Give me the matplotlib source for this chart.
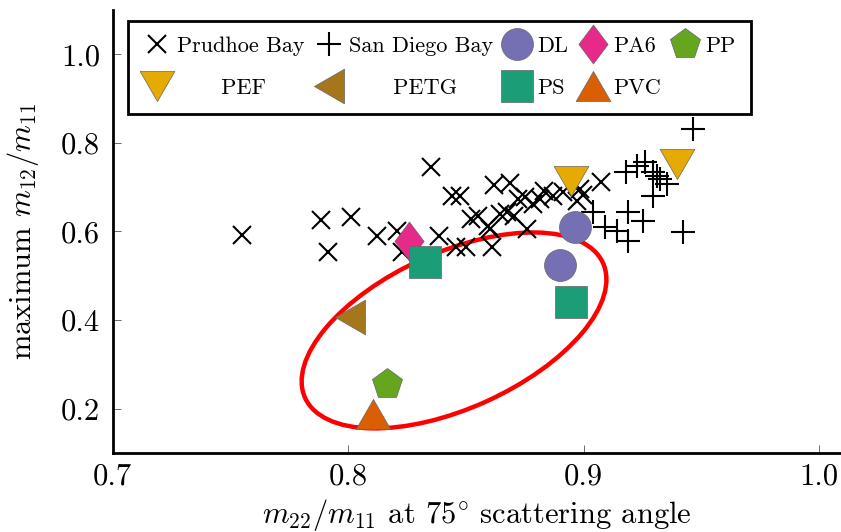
import numpy as np
import matplotlib
matplotlib.use("Agg")
import matplotlib.pyplot as plt
from matplotlib.path import Path
from matplotlib.patches import Ellipse
from matplotlib.transforms import ScaledTranslation

plt.rcParams['font.family'] = ['cmr10', 'DejaVu Serif']
plt.rcParams['mathtext.fontset'] = 'cm'
plt.rcParams['axes.formatter.use_mathtext'] = True

# ---------------- data ----------------
prudhoe_x = [0.7549, 0.7885, 0.8013, 0.7915, 0.8123, 0.8208, 0.8229, 0.8352,
             0.8442, 0.8476, 0.8386, 0.8459, 0.8501, 0.8522, 0.8552, 0.8620,
             0.8688, 0.8594, 0.8611, 0.8645, 0.8675, 0.8705, 0.8722, 0.8752,
             0.8786, 0.8815, 0.8832, 0.8870, 0.8760, 0.8603, 0.8985, 0.8998,
             0.8972, 0.9074, 0.8913]
prudhoe_y = [0.5912, 0.6251, 0.6318, 0.5528, 0.5889, 0.6002, 0.5528, 0.7447,
             0.6793, 0.6793, 0.5889, 0.5641, 0.5641, 0.6273, 0.6341, 0.7041,
             0.7086, 0.6115, 0.5641, 0.6386, 0.6431, 0.6341, 0.6725, 0.6770,
             0.6612, 0.6725, 0.6906, 0.6793, 0.6047, 0.6047, 0.6951, 0.6815,
             0.6680, 0.7109, 0.6883]

sandiego_x = [0.9465, 0.9180, 0.9227, 0.9261, 0.9295, 0.9325, 0.9355, 0.9295,
              0.9040, 0.9091, 0.9142, 0.9189, 0.9189, 0.9253, 0.9423, 0.9312]
sandiego_y = [0.8305, 0.7334, 0.7469, 0.7560, 0.7334, 0.7177, 0.7064, 0.6793,
              0.6431, 0.6093, 0.6002, 0.5776, 0.6431, 0.6228, 0.5980, 0.7244]

dl_x, dl_y = [0.8963, 0.8900], [0.6099, 0.5238]
pa6_x, pa6_y = [0.8260], [0.5775]
pp_x, pp_y = [0.8164], [0.2549]
pef_x, pef_y = [0.8948, 0.9396], [0.7146, 0.7514]
petg_x, petg_y = [0.8008], [0.4068]
ps_x, ps_y = [0.8327, 0.8946], [0.5310, 0.4415]
pvc_x, pvc_y = [0.8106], [0.1874]

# highlight ellipse (center in data units, size in inches, angle in degrees)
ell_center = (0.845, 0.3767)
ell_size_in = (3.27, 1.56)
ell_angle = 24.35

x_ticks = [0.7, 0.8, 0.9, 1.0]
y_ticks = [0.2, 0.4, 0.6, 0.8, 1.0]

colors = {'DL': '#7570b3', 'PA6': '#e7298a', 'PP': '#66a61e', 'PEF': '#e6ab02',
          'PETG': '#a6761d', 'PS': '#1b9e77', 'PVC': '#d95f02'}

# ---------------- markers ----------------
tri_up = Path([(-1, -0.866), (1, -0.866), (0, 0.866), (-1, -0.866)], closed=True)
tri_down = Path([(-1, 0.866), (1, 0.866), (0, -0.866), (-1, 0.866)], closed=True)
tri_left = Path([(0.866, -1), (0.866, 1), (-0.866, 0), (0.866, -1)], closed=True)
diamond = Path([(0, 1), (0.75, 0), (0, -1), (-0.75, 0), (0, 1)], closed=True)

fig = plt.figure(figsize=(8.41, 5.32), dpi=100)
ax = fig.add_axes([0.1338, 0.1485, 0.8662, 0.8327])

edge = dict(markeredgecolor='#666666', markeredgewidth=0.5, linestyle='none')

h_pb, = ax.plot(prudhoe_x, prudhoe_y, 'x', color='black', ms=12.5, mew=1.5,
                linestyle='none', zorder=3, label='Prudhoe Bay')
h_sd, = ax.plot(sandiego_x, sandiego_y, '+', color='black', ms=17, mew=1.5,
                linestyle='none', zorder=3, label='San Diego Bay')

ell = Ellipse((0, 0), ell_size_in[0], ell_size_in[1], angle=ell_angle,
              transform=fig.dpi_scale_trans + ScaledTranslation(ell_center[0], ell_center[1], ax.transData),
              fill=False, edgecolor='#ff0000', lw=3.2, zorder=2.5)
ax.add_patch(ell)

h_dl, = ax.plot(dl_x, dl_y, marker='o', ms=23, color=colors['DL'], zorder=4, label='DL', **edge)
h_pa6, = ax.plot(pa6_x, pa6_y, marker=diamond, ms=28, color=colors['PA6'], zorder=4, label='PA6', **edge)
h_pp, = ax.plot(pp_x, pp_y, marker='p', ms=22.5, color=colors['PP'], zorder=4, label='PP', **edge)
h_pef, = ax.plot(pef_x, pef_y, marker=tri_down, ms=25, color=colors['PEF'], zorder=4,
                 label='      PEF', **edge)
h_petg, = ax.plot(petg_x, petg_y, marker=tri_left, ms=25, color=colors['PETG'], zorder=4,
                  label='      PETG', **edge)
h_ps, = ax.plot(ps_x, ps_y, marker='s', ms=23, color=colors['PS'], zorder=4, label='PS', **edge)
h_pvc, = ax.plot(pvc_x, pvc_y, marker=tri_up, ms=25, color=colors['PVC'], zorder=4, label='PVC', **edge)

ax.set_xlim(0.7, 1.0093)
ax.set_ylim(0.1, 1.1)
ax.set_xticks(x_ticks)
ax.set_yticks(y_ticks)
ax.set_xticklabels([f"{v:.1f}" for v in x_ticks])
ax.set_yticklabels([f"{v:.1f}" for v in y_ticks])

for s in ['top', 'right']:
    ax.spines[s].set_visible(False)
for s in ['left', 'bottom']:
    ax.spines[s].set_linewidth(2.0)
    ax.spines[s].set_color('black')
    ax.spines[s].set_zorder(5)

ax.tick_params(direction='in', length=6, width=0.6, color='#555555',
               labelsize=22, pad=9)
ax.tick_params(axis='x', pad=7.5)

ax.set_xlabel(r'$m_{22}/m_{11}$ at 75$^{\circ}$ scattering angle', fontsize=22, labelpad=4.5)
ax.set_ylabel(r'maximum $m_{12}/m_{11}$', fontsize=22, labelpad=14)

handles = [h_pb, h_pef, h_sd, h_petg, h_dl, h_ps, h_pa6, h_pvc, h_pp]
leg = ax.legend(handles=handles, labels=[h.get_label() for h in handles],
                ncol=5, loc='upper left', bbox_to_anchor=(0.0213, 0.975),
                borderaxespad=0, fontsize=16, frameon=True, fancybox=False,
                edgecolor='black', framealpha=1, handlelength=1.2,
                handletextpad=0.3, columnspacing=0.5, borderpad=0.7,
                labelspacing=1.0, numpoints=1)
leg.get_frame().set_linewidth(2.0)
leg.set_zorder(6)

fig.savefig('out.png', dpi=100)
